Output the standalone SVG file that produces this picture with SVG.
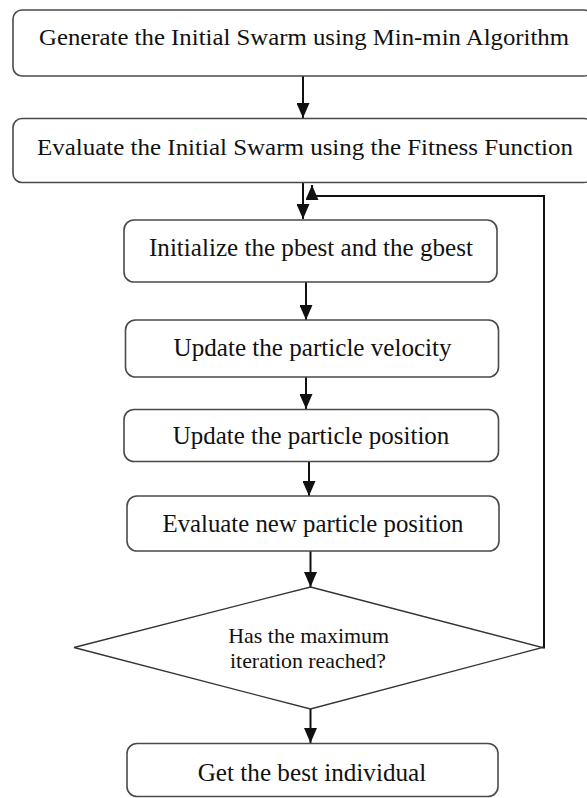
<svg xmlns="http://www.w3.org/2000/svg" width="587" height="798" viewBox="0 0 587 798">
<style>
.box{fill:#fff;stroke:#4a4a4a;stroke-width:1.6}
.dia{fill:#fff;stroke:#333;stroke-width:1.3}
.t{font-family:"Liberation Serif","Times New Roman",serif;fill:#111;text-anchor:middle}
.big{font-size:24px}
.mid{font-size:26px}
.sm{font-size:22px}
.con{fill:none;stroke:#111;stroke-width:2}
</style>
<defs>
<marker id="ah" markerUnits="userSpaceOnUse" markerWidth="15" markerHeight="13" refX="15" refY="6.5" orient="auto">
<path d="M0,0 L15,6.5 L0,13 z" fill="#111"/>
</marker>
</defs>
<rect width="587" height="798" fill="#fff"/>
<g id="connectors">
<line class="con" x1="303" y1="76" x2="303" y2="118" marker-end="url(#ah)"/>
<line class="con" x1="303" y1="182" x2="303" y2="219" marker-end="url(#ah)"/>
<line class="con" x1="306" y1="282" x2="306" y2="320" marker-end="url(#ah)"/>
<line class="con" x1="306" y1="377" x2="306" y2="409" marker-end="url(#ah)"/>
<line class="con" x1="309" y1="462" x2="309" y2="496" marker-end="url(#ah)"/>
<line class="con" x1="310.5" y1="551" x2="310.5" y2="587" marker-end="url(#ah)"/>
<line class="con" x1="310.5" y1="709" x2="310.5" y2="743" marker-end="url(#ah)"/>
<path class="con" d="M542 647.5 H544 V196 H312 V185" marker-end="url(#ah)"/>
</g>
<g id="n1">
<rect class="box" x="13" y="10" width="580" height="66" rx="9"/>
<text class="t big" x="304" y="45" textLength="530" lengthAdjust="spacingAndGlyphs">Generate the Initial Swarm using Min-min Algorithm</text>
</g>
<g id="n2">
<rect class="box" x="13" y="118.5" width="580" height="64" rx="9"/>
<text class="t big" x="305" y="155" textLength="536" lengthAdjust="spacingAndGlyphs">Evaluate the Initial Swarm using the Fitness Function</text>
</g>
<g id="n3">
<rect class="box" x="124" y="220" width="373" height="62" rx="10"/>
<text class="t mid" x="311" y="256" textLength="324" lengthAdjust="spacingAndGlyphs">Initialize the pbest and the gbest</text>
</g>
<g id="n4">
<rect class="box" x="125.5" y="320" width="373" height="57" rx="10"/>
<text class="t mid" x="312.6" y="356" textLength="278" lengthAdjust="spacingAndGlyphs">Update the particle velocity</text>
</g>
<g id="n5">
<rect class="box" x="124" y="409.5" width="374.5" height="52" rx="10"/>
<text class="t mid" x="311" y="444" textLength="276.6" lengthAdjust="spacingAndGlyphs">Update the particle position</text>
</g>
<g id="n6">
<rect class="box" x="127" y="496" width="372" height="55" rx="10"/>
<text class="t mid" x="313" y="532" textLength="301" lengthAdjust="spacingAndGlyphs">Evaluate new particle position</text>
</g>
<g id="n7">
<polygon class="dia" points="310.5,587 542.5,647.5 310.5,709 74,647.5"/>
<text class="t sm" x="308.7" y="643" textLength="161" lengthAdjust="spacingAndGlyphs">Has the maximum</text>
<text class="t sm" x="308" y="668" textLength="156" lengthAdjust="spacingAndGlyphs">iteration reached?</text>
</g>
<g id="n8">
<rect class="box" x="127" y="743.5" width="371" height="53" rx="10"/>
<text class="t mid" x="312" y="781" textLength="228.6" lengthAdjust="spacingAndGlyphs">Get the best individual</text>
</g>
</svg>
